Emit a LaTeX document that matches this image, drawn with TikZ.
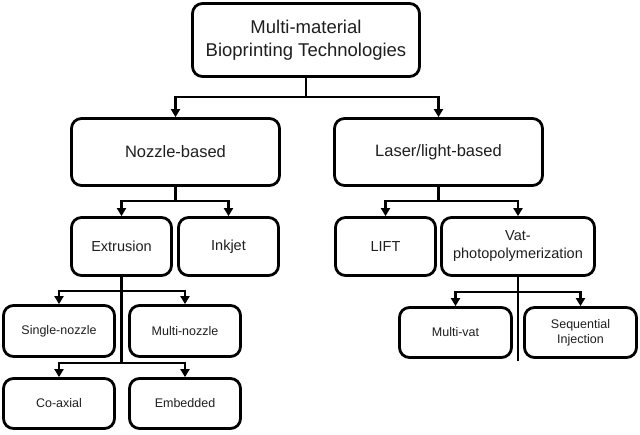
\documentclass[tikz,border=0pt]{standalone}
\usepackage{fontspec}
\setmainfont{Liberation Sans}
\usetikzlibrary{arrows.meta}
\begin{document}
\begin{tikzpicture}[x=1pt,y=-1pt,
  box/.style={draw=black, line width=2.8pt, rounded corners=10pt, fill=white, align=center, inner sep=0pt, text=black!88},
  big/.style={box, font=\fontsize{18.5}{23}\selectfont},
  mid/.style={box, font=\fontsize{16.5}{20}\selectfont},
  sml/.style={box, font=\fontsize{14.5}{18}\selectfont},
  tiny/.style={box, font=\fontsize{12.5}{15}\selectfont},
  ln/.style={line width=2.8pt, line cap=rect},
  arr/.style={line width=2.8pt, -{Triangle[width=9pt,length=8pt]}}]
\useasboundingbox (0,0) rectangle (640,434);
\fill[white] (0,0) rectangle (640,434);
% nodes
\node[big, minimum width=227, minimum height=73] (top) at (306,40) {Multi-material\\Bioprinting Technologies};
\node[mid, minimum width=208, minimum height=67] (noz) at (175.5,152) {Nozzle-based};
\node[mid, minimum width=208, minimum height=67] (las) at (438.5,152) {Laser/light-based};
\node[sml, minimum width=100, minimum height=58] (ext) at (121.5,246.5) {Extrusion};
\node[sml, minimum width=100, minimum height=58] (ink) at (228.5,246.5) {Inkjet};
\node[sml, minimum width=100, minimum height=58] (lift) at (385.5,246.5) {LIFT};
\node[sml, minimum width=153, minimum height=58] (vat) at (518,246.5) {Vat-\\photopolymerization};
\node[tiny, minimum width=111, minimum height=51] (sn) at (59,331) {Single-nozzle};
\node[tiny, minimum width=111, minimum height=51] (mn) at (185,331) {Multi-nozzle};
\node[tiny, minimum width=111, minimum height=50] (co) at (59,403.5) {Co-axial};
\node[tiny, minimum width=111, minimum height=50] (em) at (185,403.5) {Embedded};
\node[tiny, minimum width=112, minimum height=50] (mv) at (455.5,332.5) {Multi-vat};
\node[tiny, minimum width=112, minimum height=50] (si) at (580.5,332.5) {Sequential\\Injection};
% junctions
\coordinate (j0) at (306,97);
\coordinate (jn) at (175.5,201);
\coordinate (jl) at (438.5,201);
\coordinate (je1) at (121.5,291);
\coordinate (je2) at (121.5,363);
\coordinate (jv1) at (518,292);
\coordinate (jv2) at (518,360);
% connectors
\draw[ln] (top.south) -- (j0);
\draw[arr] (j0) -| (noz.north);
\draw[arr] (j0) -| (las.north);
\draw[ln] (noz.south) -- (jn);
\draw[arr] (jn) -| (ext.north);
\draw[arr] (jn) -| (ink.north);
\draw[ln] (las.south) -- (jl);
\draw[arr] (jl) -| (lift.north);
\draw[arr] (jl) -| (vat.north);
\draw[ln] (ext.south) -- (je2);
\draw[arr] (je1) -| (sn.north);
\draw[arr] (je1) -| (mn.north);
\draw[arr] (je2) -| (co.north);
\draw[arr] (je2) -| (em.north);
\draw[ln] (vat.south) -- (jv2);
\draw[arr] (jv1) -| (mv.north);
\draw[arr] (jv1) -| (si.north);
\end{tikzpicture}
\end{document}
